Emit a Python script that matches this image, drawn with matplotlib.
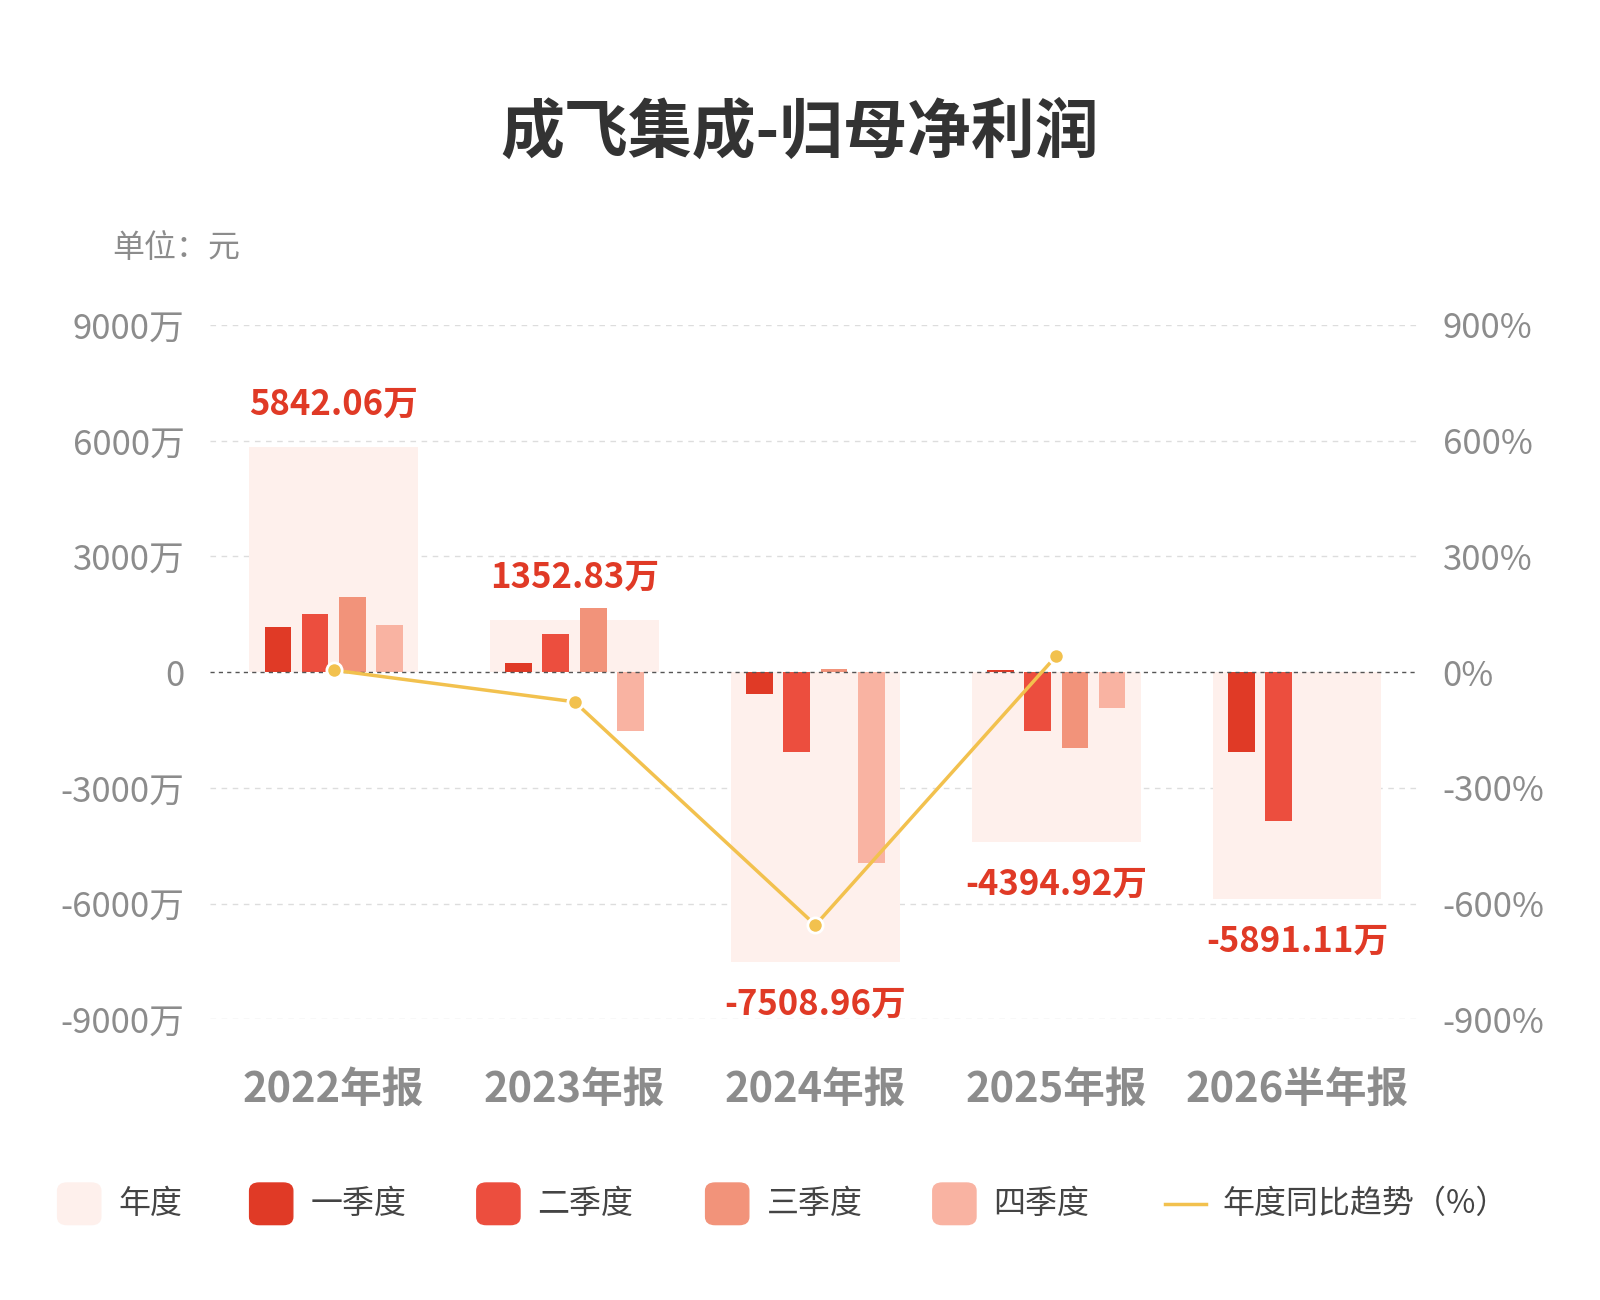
import matplotlib
matplotlib.use("Agg")
import matplotlib.pyplot as plt
from matplotlib.patches import FancyBboxPatch
import numpy as np

plt.rcParams['font.family'] = ['Noto Sans CJK SC', 'DejaVu Sans']

periods = ["2022年报", "2023年报", "2024年报", "2025年报", "2026半年报"]
annual = [5842.06, 1352.83, -7508.96, -4394.92, -5891.11]
annual_labels = ["5842.06万", "1352.83万", "-7508.96万", "-4394.92万", "-5891.11万"]
q1 = [1170, 240, -580, 50, -2070]
q2 = [1510, 980, -2070, -1540, -3850]
q3 = [1940, 1650, 80, -1960, np.nan]
q4 = [1220, -1540, -4960, -930, np.nan]
yoy = [5, -77, -656, 42]
yticks = [9000, 6000, 3000, 0, -3000, -6000, -9000]

C_YEAR, C1, C2, C3, C4 = "#FEF0EC", "#E03A26", "#EC4E3E", "#F2937A", "#F9B3A2"
C_LINE, C_LAB, GREY = "#F2C14E", "#E03A26", "#8C8C8C"

fig = plt.figure(figsize=(16, 13), dpi=100)
ax = fig.add_axes([0.131, 0.216, 0.755, 0.534])
x = np.arange(len(periods))
ax.bar(x, annual, width=0.7, color=C_YEAR, zorder=1)
for off, vals, c in zip([-0.232, -0.078, 0.078, 0.232], [q1, q2, q3, q4], [C1, C2, C3, C4]):
    ax.bar(x + off, vals, width=0.11, color=c, zorder=2)
ax.axhline(0, color="#555555", lw=1, ls=(0, (3, 3)), zorder=3)
for v in yticks:
    if v != 0:
        ax.axhline(v, color="#DDDDDD", lw=1, ls=(0, (4, 4)), zorder=0)
for xi, v, t in zip(x, annual, annual_labels):
    off = 1100 if v > 0 else -1100
    ax.text(xi, v + off, t, ha="center", va="center", color=C_LAB, fontsize=25, fontweight="bold")
ax.set_xlim(-0.515, 4.5)
ax.set_ylim(-9000, 9000)
ax.set_yticks(yticks)
ax.set_yticklabels([f"{v}万" if v != 0 else "0" for v in yticks], fontsize=25, color=GREY)
ax.set_xticks(x)
ax.set_xticklabels(periods, fontsize=30, fontweight="bold", color=GREY)
ax.tick_params(length=0, pad=18)
ax.tick_params(axis="x", pad=36)
for s in ax.spines.values():
    s.set_visible(False)

ax2 = ax.twinx()
ax2.plot(x[:4], yoy, color=C_LINE, lw=2.5, marker="o", ms=11, mec="white", mew=2, zorder=5, clip_on=False)
ax2.set_ylim(-900, 900)
ax2.set_yticks([900, 600, 300, 0, -300, -600, -900])
ax2.set_yticklabels([f"{v}%" for v in [900, 600, 300, 0, -300, -600, -900]], fontsize=25, color=GREY)
ax2.tick_params(length=0, pad=18)
for s in ax2.spines.values():
    s.set_visible(False)

fig.text(0.5, 0.898, "成飞集成-归母净利润", ha="center", va="center", fontsize=46, fontweight="bold", color="#333333")
fig.text(0.070, 0.809, "单位：元", ha="left", va="center", fontsize=23, color=GREY)

# legend
items = [("年度", C_YEAR), ("一季度", C1), ("二季度", C2), ("三季度", C3), ("四季度", C4)]
xs = [0.036, 0.156, 0.298, 0.441, 0.583]
yl = 0.074
for (lab, c), xp in zip(items, xs):
    fig.patches.append(FancyBboxPatch((xp, yl - 0.016), 0.027, 0.032, boxstyle="round,pad=0,rounding_size=0.006",
                                      transform=fig.transFigure, color=c))
    fig.text(xp + 0.038, yl, lab, ha="left", va="center", fontsize=23, color="#444444")
fig.add_artist(plt.Line2D([0.728, 0.754], [yl, yl], color=C_LINE, lw=2.5, transform=fig.transFigure))
fig.text(0.764, yl, "年度同比趋势（%）", ha="left", va="center", fontsize=23, color="#444444")

fig.savefig("out.png", dpi=100, facecolor="white")
